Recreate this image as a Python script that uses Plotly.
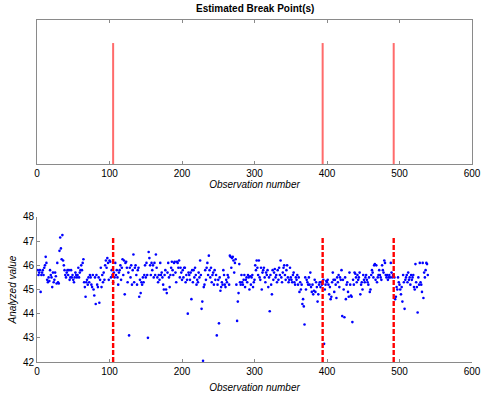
import plotly.graph_objects as go

break_points = [105, 394, 492]

values = [
    45.8, 45.6, 45.7, 45.8, 44.9, 45.6, 45.7, 45.8, 45.6, 45.9,
    46.0, 46.35, 46.1, 45.4, 45.3, 45.5, 45.35, 45.8, 45.6, 45.5,
    45.1, 45.7, 45.3, 45.4, 45.7, 45.55, 45.25, 46.1, 45.3, 45.25,
    46.6, 47.15, 46.7, 46.25, 47.25, 46.2, 46.0, 45.8, 45.6, 45.5,
    45.7, 45.8, 45.6, 45.8, 45.4, 45.5, 45.8, 45.5, 45.6, 45.4,
    45.3, 45.5, 45.7, 45.6, 45.5, 45.6, 45.9, 45.5, 45.7, 45.8,
    46.0, 45.8, 46.1, 46.25, 45.3, 45.1, 44.7, 45.3, 45.4, 45.2,
    45.5, 45.3, 45.6, 45.5, 45.2, 45.1, 45.6, 45.0, 44.75, 45.5,
    44.4, 45.6, 45.2, 45.1, 45.5, 44.45, 45.4, 45.9, 45.1, 45.6,
    45.3, 45.7, 45.4, 46.0, 46.2, 45.9, 46.3, 46.1, 45.4, 46.2,
    46.15, 45.5, 45.8, 45.6, 45.3, 45.7, 45.5, 46.1, 45.6, 45.8,
    45.5, 45.2, 45.7, 45.8, 46.0, 45.4, 45.9, 46.25, 45.6, 46.2,
    44.8, 46.1, 46.15, 45.9, 45.3, 45.7, 43.1, 45.9, 45.5, 46.0,
    45.2, 45.8, 46.45, 45.3, 45.9, 46.0, 45.6, 45.2, 45.8, 45.9,
    44.7, 45.4, 44.85, 45.3, 45.2, 45.5, 45.3, 45.6, 46.0, 45.5,
    46.1, 45.6, 43.0, 46.55, 46.3, 46.0, 45.6, 46.1, 45.8, 46.0,
    45.5, 46.1, 45.6, 46.45, 45.9, 45.5, 45.3, 45.6, 45.4, 46.1,
    45.6, 45.7, 45.5, 45.2, 45.0, 45.6, 45.8, 45.0, 44.85, 45.7,
    46.1, 45.5, 45.1, 45.6, 45.9, 46.15, 45.8, 45.6, 46.1, 46.15,
    45.7, 45.3, 46.15, 46.1, 45.9, 46.2, 45.5, 45.9, 45.7, 45.4,
    45.8, 45.5, 45.9, 45.9, 45.3, 45.6, 45.4, 44.0, 45.7, 45.6,
    45.4, 45.7, 44.6, 45.8, 45.3, 45.8, 45.5, 45.9, 45.6, 45.2,
    45.4, 45.3, 45.7, 45.5, 46.2, 45.6, 44.2, 44.5, 42.05, 45.1,
    45.2, 45.8, 45.4, 45.9, 46.1, 45.6, 46.4, 45.8, 45.5, 45.9,
    45.3, 45.6, 45.7, 45.2, 45.8, 45.4, 45.6, 43.1, 45.2, 45.4,
    43.6, 45.5, 44.95, 45.1, 45.3, 45.2, 45.8, 45.6, 45.2, 45.1,
    45.4, 45.3, 45.6, 45.5, 45.2, 46.4, 46.35, 45.9, 46.3, 46.35,
    46.2, 45.7, 46.1, 46.25, 45.2, 43.7, 44.5, 44.85, 46.05, 45.3,
    45.2, 45.6, 45.3, 45.2, 45.4, 45.6, 45.1, 45.4, 45.5, 45.3,
    45.6, 45.5, 45.0, 45.55, 45.2, 45.5, 45.6, 45.1, 45.3, 45.4,
    46.0, 45.8, 46.2, 45.9, 45.6, 46.2, 45.5, 45.4, 45.9, 45.0,
    45.7, 45.8, 45.9, 45.5, 45.3, 45.7, 45.6, 45.8, 45.1, 45.5,
    44.1, 45.6, 45.2, 44.8, 45.8, 45.4, 45.7, 45.85, 45.5, 45.6,
    45.3, 45.8, 45.4, 45.9, 45.6, 46.2, 45.5, 45.3, 45.7, 45.9,
    46.0, 45.6, 45.4, 45.8, 46.0, 45.5, 45.3, 45.4, 45.9, 45.5,
    45.4, 45.3, 45.6, 45.7, 45.3, 45.2, 45.5, 45.4, 45.6, 45.2,
    45.5, 44.9, 45.3, 45.0, 45.2, 44.4, 44.6, 44.3, 43.55, 45.5,
    45.0, 45.4, 45.3, 45.2, 45.5, 45.2, 45.7, 45.1, 44.9, 45.2,
    44.8, 44.95, 45.4, 44.9, 45.3, 45.1, 44.5, 44.8, 45.2, 45.3,
    45.1, 45.3, 45.2, 45.3, 45.4, 42.75, 45.0, 45.2, 45.35, 45.3,
    45.4, 45.2, 44.8, 45.1, 44.6, 44.7, 45.3, 45.7, 45.4, 44.9,
    45.4, 45.2, 44.65, 45.5, 45.3, 45.6, 45.1, 45.5, 45.4, 45.8,
    43.9, 45.4, 45.0, 43.85, 45.5, 44.6, 45.2, 45.3, 44.9, 44.7,
    45.7, 45.2, 44.75, 44.7, 43.65, 45.4, 45.2, 45.7, 45.65, 45.5,
    45.3, 45.6, 45.4, 45.5, 45.7, 44.8, 45.2, 45.3, 45.0, 45.6,
    45.4, 45.3, 45.5, 45.6, 45.4, 45.3, 45.2, 45.5, 44.9, 45.0,
    45.6, 45.8, 45.7, 45.5, 46.0, 46.05, 45.4, 46.0, 45.3, 45.5,
    45.6, 45.8, 45.6, 45.5, 45.4, 46.0, 45.8, 45.7, 46.2, 46.1,
    45.6, 45.5, 45.6, 45.4, 45.5, 45.6, 45.5, 46.1, 45.7, 45.5,
    45.6, 45.6, 45.5, 44.6, 44.7, 45.1, 45.0, 45.5, 45.3, 45.2,
    45.0, 44.8, 45.1, 44.5, 45.6, 45.3, 44.2, 45.4, 45.5, 45.6,
    45.3, 45.7, 45.4, 45.5, 45.2, 45.6, 45.4, 45.5, 45.6, 45.1,
    45.0, 46.05, 45.3, 45.1, 44.05, 45.5, 45.2, 46.1, 45.3, 45.2,
    44.9, 46.1, 44.65, 45.7, 45.5, 45.8, 46.1, 46.05, 45.6,
]
obs = list(range(1, len(values) + 1))

x_ticks = [0, 100, 200, 300, 400, 500, 600]
y_ticks = [42, 43, 44, 45, 46, 47, 48]
top_line_height = 0.84
bottom_line_range = [42, 47.2]

font_family = "Liberation Sans, Arial, sans-serif"
axis_color = "#8a8a8a"

bx, by = [], []
for b in break_points:
    bx += [b, b, None]
    by += [0, top_line_height, None]

dx, dy = [], []
for b in break_points:
    dx += [b, b, None]
    dy += [bottom_line_range[0], bottom_line_range[1], None]

fig = go.Figure()
fig.add_trace(go.Scatter(x=bx, y=by, mode="lines",
                         line=dict(color="#ff6b6b", width=2),
                         xaxis="x", yaxis="y", hoverinfo="skip"))
fig.add_trace(go.Scatter(x=obs, y=values, mode="markers",
                         marker=dict(color="#0000ff", size=2.6, symbol="circle"),
                         xaxis="x2", yaxis="y2"))
fig.add_trace(go.Scatter(x=dx, y=dy, mode="lines",
                         line=dict(color="#ff0000", width=2.4, dash="5px,2px"),
                         xaxis="x2", yaxis="y2", hoverinfo="skip"))

common_x = dict(range=[0, 600], tickvals=x_ticks, ticks="inside", ticklen=3,
                tickcolor=axis_color, linecolor=axis_color, showline=True,
                showgrid=False, zeroline=False, automargin=False,
                tickfont=dict(size=10, color="#000", family=font_family))

fig.update_layout(
    width=481, height=393,
    margin=dict(l=37, r=9, t=20, b=31),
    paper_bgcolor="white", plot_bgcolor="white",
    showlegend=False,
    font=dict(family=font_family, color="#000"),
    xaxis=dict(domain=[0, 1], anchor="y", mirror="ticks",
               title=dict(text="<i>Observation number</i>", font=dict(size=10), standoff=2),
               **common_x),
    yaxis=dict(domain=[0.579, 1], anchor="x", range=[0, 1], automargin=False,
               showticklabels=False, ticks="", showline=True, mirror=True,
               linecolor=axis_color, showgrid=False, zeroline=False),
    xaxis2=dict(domain=[0, 1], anchor="y2",
                title=dict(text="<i>Observation number</i>", font=dict(size=10), standoff=10),
                **common_x),
    yaxis2=dict(domain=[0, 0.424], anchor="x2", range=[42, 48], tickvals=y_ticks,
                ticks="inside", ticklen=3, tickcolor=axis_color, automargin=False,
                linecolor=axis_color, showline=True, showgrid=False, zeroline=False,
                tickfont=dict(size=10, color="#000", family=font_family),
                title=dict(text="<i>Analyzed value</i>", font=dict(size=10), standoff=4)),
    annotations=[dict(text="<b>Estimated Break Point(s)</b>", x=0.5, y=1,
                      xref="paper", yref="paper", xanchor="center", yanchor="bottom",
                      yshift=4, showarrow=False, font=dict(size=10, color="#000"))],
)

fig.write_html("out.html")
